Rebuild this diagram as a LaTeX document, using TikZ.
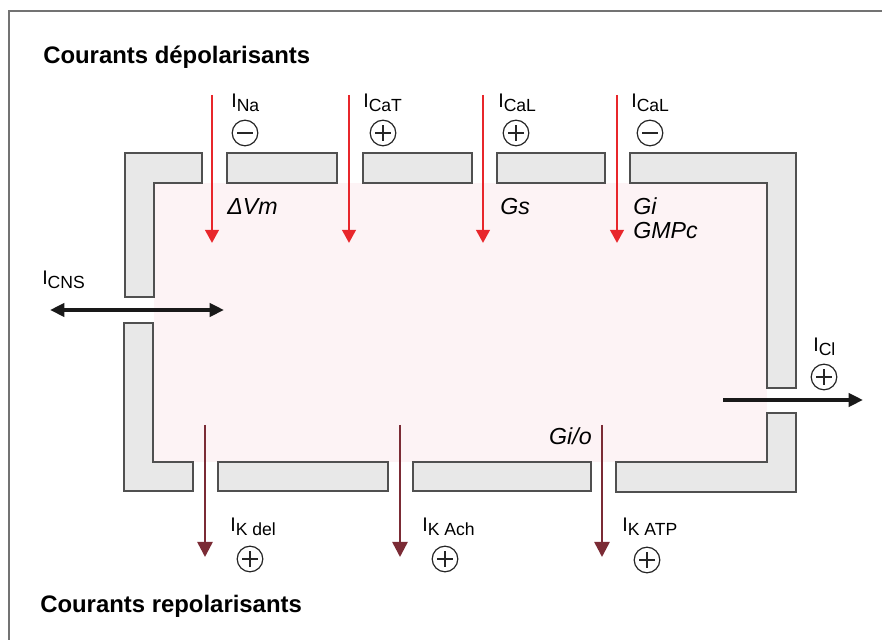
\documentclass[tikz,border=0pt]{standalone}
\usepackage{fontspec}
\setmainfont{Liberation Sans}
\usepackage{tikz}
\usetikzlibrary{arrows.meta, positioning}

\definecolor{rouge}{HTML}{E8262B}
\definecolor{bordeaux}{HTML}{7B2B35}
\definecolor{gris}{HTML}{E8E8E8}
\definecolor{grisfonce}{HTML}{505050}
\definecolor{rosepale}{HTML}{FDF3F5}

\newcommand{\courant}[1]{I\raisebox{-1mm}{\fontsize{12.5}{12.5}\selectfont #1}}

\tikzset{
    membrane/.style={draw=grisfonce, fill=gris, line width=0.37mm},
    titre/.style={anchor=base west, inner sep=0pt, font=\fontsize{17}{20}\selectfont\bfseries},
    etiquette/.style={anchor=base west, inner sep=0pt, font=\fontsize{14}{16}\selectfont},
    italique/.style={anchor=base west, inner sep=0pt, font=\fontsize{16.5}{18}\selectfont\itshape},
    signe/.style={circle, draw=black!85, line width=0.3mm, minimum size=6.4mm, inner sep=0pt},
    moins/.style={signe, path picture={
        \draw[black!85, line width=0.3mm] ([xshift=-1.9mm]path picture bounding box.center) -- ([xshift=1.9mm]path picture bounding box.center);}},
    plus/.style={signe, path picture={
        \draw[black!85, line width=0.3mm] ([xshift=-1.9mm]path picture bounding box.center) -- ([xshift=1.9mm]path picture bounding box.center)
            ([yshift=-1.9mm]path picture bounding box.center) -- ([yshift=1.9mm]path picture bounding box.center);}},
    fleche rouge/.style={rouge, line width=0.65mm, -{Triangle[length=3.3mm, width=3.4mm]}},
    fleche bordeaux/.style={bordeaux, line width=0.65mm, -{Triangle[length=3.8mm, width=3.8mm]}},
    fleche noire/.style={black!90, line width=0.8mm, -{Triangle[length=3.6mm, width=3.3mm]}},
    double noire/.style={black!90, line width=0.8mm, {Triangle[length=3.6mm, width=3.3mm]}-{Triangle[length=3.6mm, width=3.3mm]}}
}

\begin{document}
\begin{tikzpicture}[x=0.25mm, y=-0.25mm]
    \useasboundingbox (0,0) rectangle (882,640);
    % 1. Cadre et fond
    \draw[grisfonce!80, line width=0.45mm] (9,640) -- (9,11) -- (882,11);
    \fill[rosepale] (154,183) rectangle (767,462);

    % 2. Membrane
    \draw[membrane] (125,153) -- (202,153) -- (202,183) -- (154,183) -- (154,297) -- (125,297) -- cycle;
    \draw[membrane] (227,153) rectangle (337,183);
    \draw[membrane] (363,153) rectangle (472,183);
    \draw[membrane] (497,153) rectangle (605,183);
    \draw[membrane] (630,153) -- (796,153) -- (796,388) -- (767,388) -- (767,183) -- (630,183) -- cycle;
    \draw[membrane] (124,323) -- (153,323) -- (153,462) -- (193,462) -- (193,491) -- (124,491) -- cycle;
    \draw[membrane] (218,462) rectangle (388,491);
    \draw[membrane] (413,462) rectangle (591,491);
    \draw[membrane] (616,462) -- (767,462) -- (767,413) -- (796,413) -- (796,492) -- (616,492) -- cycle;

    % 3. Titres
    \node[titre] (depol) at (43,64) {Courants dépolarisants};
    \node[titre] (repol) at (40,613) {Courants repolarisants};

    % 4. Courants dépolarisants
    \foreach \nom/\x in {na/212, cat/349, cal/483, calb/617} {
        \coordinate (\nom-haut) at (\x,95);
        \coordinate (\nom-bas) at (\x,243);
        \draw[fleche rouge] (\nom-haut) -- (\nom-bas);
    }
    \node[etiquette] (ina) at (231,108) {\courant{Na}};
    \node[moins] (ina-signe) at (245,133) {};
    \node[etiquette] (icat) at (363,108) {\courant{CaT}};
    \node[plus] (icat-signe) at (383,133) {};
    \node[etiquette] (ical) at (498,108) {\courant{CaL}};
    \node[plus] (ical-signe) at (516,133) {};
    \node[etiquette] (icalb) at (631,108) {\courant{CaL}};
    \node[moins] (icalb-signe) at (650,133) {};
    \node[italique] (dvm) at (227,215) {ΔVm};
    \node[italique] (gs) at (500,215) {Gs};
    \node[italique] (gi) at (633,215) {Gi};
    \node[italique] (gmpc) at (633,239) {GMPc};

    % 5. Courants repolarisants
    \foreach \nom/\x in {kdel/205, kach/400, katp/602} {
        \coordinate (\nom-haut) at (\x,425);
        \coordinate (\nom-bas) at (\x,557);
        \draw[fleche bordeaux] (\nom-haut) -- (\nom-bas);
    }
    \node[etiquette] (ikdel) at (230,532) {\courant{K del}};
    \node[plus] (ikdel-signe) at (250,559) {};
    \node[etiquette] (ikach) at (422,532) {\courant{K Ach}};
    \node[plus] (ikach-signe) at (445,559) {};
    \node[etiquette] (ikatp) at (622,532) {\courant{K ATP}};
    \node[plus] (ikatp-signe) at (647,560) {};
    \node[italique, anchor=base east] (gio) at (592,445) {Gi/o};

    % 6. Courants I_CNS et I_Cl
    \coordinate (cns-g) at (50,310);
    \coordinate (cns-d) at (224,310);
    \draw[double noire] (cns-g) -- (cns-d);
    \node[etiquette] (icns) at (42,285) {\courant{CNS}};
    \coordinate (cl-g) at (723,400);
    \coordinate (cl-d) at (863,400);
    \draw[fleche noire] (cl-g) -- (cl-d);
    \node[etiquette] (icl) at (813,352) {\courant{Cl}};
    \node[plus] (icl-signe) at (824,377) {};
\end{tikzpicture}
\end{document}
